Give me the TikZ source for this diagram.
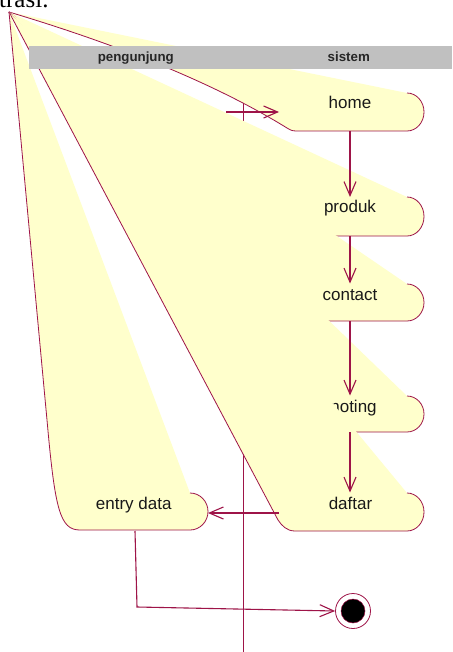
\documentclass[tikz,border=0pt]{standalone}
\usepackage{fontspec}
\setmainfont{Liberation Sans}
\newfontfamily\serifA{Liberation Serif}
\usetikzlibrary{arrows.meta}
\definecolor{umlred}{RGB}{158,20,72}
\definecolor{umlfill}{RGB}{255,255,204}
\definecolor{hdrgray}{RGB}{192,192,192}
\begin{document}
\begin{tikzpicture}[x=1pt,y=-1pt,
  actfill/.style={fill=umlfill},
  actline/.style={draw=umlred, line width=0.8pt},
  lbl/.style={font=\fontsize{17}{20}\selectfont, text=black!90, inner sep=0pt, anchor=base},
  hdr/.style={font=\bfseries\fontsize{13.3}{16}\selectfont, text=black!85, inner sep=0pt, anchor=base},
  flow/.style={draw=umlred, line width=1.1pt, -{Straight Barb[length=14pt,width=12pt]}},
  lane/.style={draw=umlred, line width=0.8pt},
]
\useasboundingbox (0,0) rectangle (452,652);
\clip (0,0) rectangle (452,652);
\fill[white] (0,0) rectangle (452,652);

\node[font=\serifA\fontsize{25}{30}\selectfont, anchor=base west, inner sep=0pt] (trasi) at (-1,7.5) {trasi.};

\coordinate (A) at (9,12);
\coordinate (laneT) at (243,69);
\coordinate (laneB) at (243,652);
\draw[lane] (laneT) -- (laneB);

\def\homeE{(407,93) .. controls (416.4,93) and (424,101.5) .. (424,112) .. controls (424,122.5) and (416.4,131) .. (407,131) -- (296,131) .. controls (291.5,131) and (289.5,129.5) .. (287,128) .. controls (219,86) and (126,47) .. (9,12)}
\def\produkE{(407,197) .. controls (416.4,197) and (424,205.7) .. (424,216.5) .. controls (424,227.3) and (416.4,236) .. (407,236) -- (296,236) .. controls (288,236) and (284,232) .. (281,228) -- (9,12)}
\def\contactE{(407,284) .. controls (416.4,284) and (424,292.3) .. (424,302.5) .. controls (424,312.7) and (416.4,321) .. (407,321) -- (296,321) .. controls (288,321) and (284,317) .. (281,313) -- (9,12)}
\def\notingE{(407,396) .. controls (416.4,396) and (424,404.1) .. (424,414) .. controls (424,423.9) and (416.4,432) .. (407,432) -- (296,432) .. controls (288,432) and (284,428) .. (281,424) -- (9,12)}
\def\daftarE{(407,493) .. controls (416.4,493) and (424,501.5) .. (424,512) .. controls (424,522.5) and (416.4,531) .. (407,531) -- (295,531) .. controls (287,531) and (282,526) .. (278,520) -- (9,12)}
\def\entryE{(190,493) .. controls (199.9,493) and (208,501.3) .. (208,511.5) .. controls (208,521.7) and (199.9,530) .. (190,530) -- (80,530) .. controls (60,530) and (55,510) .. (47,420) -- (9,12)}

% home
\fill[actfill] (A) -- \homeE -- cycle;
\draw[actline] \homeE;
\node[lbl] (home) at (350,109) {home};
% produk
\fill[actfill] (A) -- \produkE -- cycle;
\draw[actline] \produkE;
\node[lbl] (produk) at (350,212) {produk};
% contact
\fill[actfill] (A) -- \contactE -- cycle;
\draw[actline] \contactE;
\node[lbl] (contact) at (350,300) {contact};
% noting
\fill[actfill] (A) -- \notingE -- cycle;
\draw[actline] \notingE;
\node[lbl] (noting) at (353.5,412) {noting};
% daftar
\fill[actfill] (A) -- \daftarE -- cycle;
\draw[actline] \daftarE;
\node[lbl] (daftar) at (350.5,509) {daftar};
% entry data
\fill[actfill] (A) -- \entryE -- cycle;
\draw[actline] \entryE;
\node[lbl] (entry) at (133.7,509) {entry data};

% swimlane header
\fill[hdrgray] (29,46) rectangle (452,69.5);
\node[hdr] (hdrL) at (135.8,61.5) {pengunjung};
\node[hdr] (hdrR) at (348.8,61.5) {sistem};

% transitions
\coordinate (initS) at (226,112);
\coordinate (homeW) at (279,112);
\coordinate (homeB) at (350,131);
\coordinate (produkT) at (350,197);
\coordinate (produkB) at (350,236);
\coordinate (contactT) at (350,283.5);
\coordinate (contactB) at (350,321);
\coordinate (notingT) at (350,395.5);
\coordinate (notingB) at (350,432);
\coordinate (daftarT) at (350,492.5);
\coordinate (daftarW) at (279,513);
\coordinate (entryE) at (208,513);
\coordinate (entryB) at (135,531);
\coordinate (bend) at (137,607);

\node[circle, draw=umlred, fill=white, line width=0.8pt, minimum size=35pt, inner sep=0pt] (fin) at (353,611) {};
\node[circle, draw=umlred, fill=black, line width=0.5pt, minimum size=24pt, inner sep=0pt] (finin) at (fin.center) {};

\draw[flow] (initS) -- (homeW);
\draw[flow] (homeB) -- (produkT);
\draw[flow] (produkB) -- (contactT);
\draw[flow] (contactB) -- (notingT);
\draw[flow] (notingB) -- (daftarT);
\draw[flow] (daftarW) -- (entryE);
\draw[flow] (entryB) -- (bend) -- (fin.west);
\end{tikzpicture}
\end{document}
